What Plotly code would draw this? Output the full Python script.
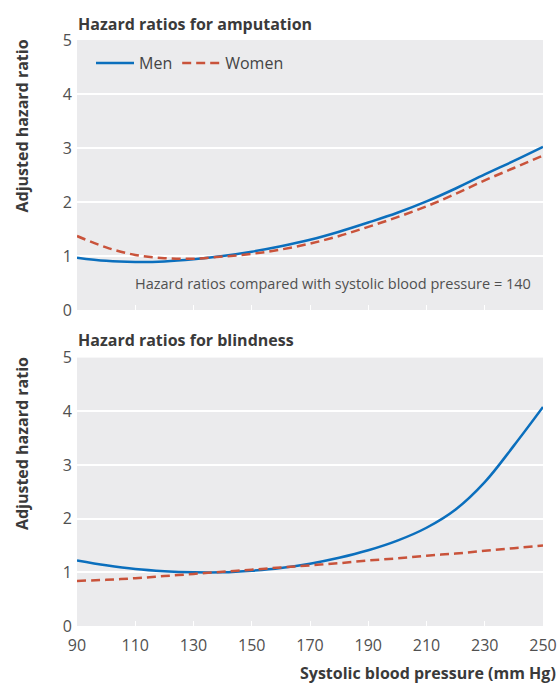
import plotly.graph_objects as go

# ---- data ----
sbp = [90, 100, 110, 120, 130, 140, 150, 160, 170, 180, 190, 200, 210, 220, 230, 240, 250]
amp_men = [0.97, 0.91, 0.89, 0.90, 0.94, 1.00, 1.08, 1.18, 1.30, 1.45, 1.62, 1.80, 2.01, 2.25, 2.51, 2.76, 3.02]
amp_women = [1.37, 1.16, 1.02, 0.96, 0.95, 0.99, 1.04, 1.12, 1.23, 1.37, 1.54, 1.72, 1.92, 2.15, 2.40, 2.63, 2.86]
blind_men = [1.22, 1.13, 1.06, 1.02, 1.00, 1.00, 1.03, 1.08, 1.16, 1.27, 1.41, 1.59, 1.83, 2.17, 2.68, 3.36, 4.08]
blind_women = [0.84, 0.86, 0.89, 0.93, 0.97, 1.01, 1.05, 1.09, 1.13, 1.17, 1.22, 1.26, 1.31, 1.35, 1.40, 1.45, 1.50]

x_ticks = [90, 110, 130, 150, 170, 190, 210, 230, 250]
y_ticks = [0, 1, 2, 3, 4, 5]

series_names = ["Men", "Women"]
panel_titles = ["Hazard ratios for amputation", "Hazard ratios for blindness"]
y_title = "Adjusted hazard ratio"
x_title = "Systolic blood pressure (mm Hg)"
note = "Hazard ratios compared with systolic blood pressure = 140"

# ---- style ----
BLUE = "#0b6fbd"
RED = "#c9533b"
BG = "#ebebed"
FONT = "Open Sans"
TXT = "#3a3a3a"
TICK = "#505050"

W, H = 560, 683
ML, MR, MT, MB = 77, 17, 40, 57
PH = H - MT - MB
PW = W - ML - MR


def py(pix):
    return (H - MB - pix) / PH


def px(pix):
    return (pix - ML) / PW


fig = go.Figure()

men_line = dict(color=BLUE, width=2.5, shape="spline")
women_line = dict(color=RED, width=2.5, dash="9px,5px", shape="spline")

fig.add_trace(go.Scatter(x=sbp, y=amp_men, mode="lines", name=series_names[0],
                         line=men_line, xaxis="x", yaxis="y", showlegend=True))
fig.add_trace(go.Scatter(x=sbp, y=amp_women, mode="lines", name=series_names[1],
                         line=women_line, xaxis="x", yaxis="y", showlegend=True))
fig.add_trace(go.Scatter(x=sbp, y=blind_men, mode="lines", name=series_names[0],
                         line=men_line, xaxis="x2", yaxis="y2", showlegend=False))
fig.add_trace(go.Scatter(x=sbp, y=blind_women, mode="lines", name=series_names[1],
                         line=women_line, xaxis="x2", yaxis="y2", showlegend=False))

common_x = dict(range=[90, 250], tickmode="array", tickvals=x_ticks, ticks="inside",
                ticklen=5, tickwidth=1.2, tickcolor="white", showgrid=False,
                zeroline=False, showline=False, ticklabelstandoff=8, automargin=False,
                tickfont=dict(family=FONT, size=16, color=TICK))
common_y = dict(range=[0, 5], tickmode="array", tickvals=y_ticks, ticks="",
                showgrid=True, gridcolor="white", gridwidth=1.5, zeroline=False,
                showline=False, ticklabelstandoff=4, automargin=False,
                tickfont=dict(family=FONT, size=16, color=TICK))

top_dom = [py(310), 1.0]
bot_dom = [0.0, py(357.6)]

fig.update_layout(
    width=W, height=H,
    autosize=False,
    margin=dict(l=ML, r=MR, t=MT, b=MB, autoexpand=False),
    paper_bgcolor="white",
    plot_bgcolor=BG,
    font=dict(family=FONT, color=TXT),
    xaxis=dict(common_x, anchor="y", showticklabels=False),
    yaxis=dict(common_y, anchor="x", domain=top_dom),
    xaxis2=dict(common_x, anchor="y2", showticklabels=True),
    yaxis2=dict(common_y, anchor="x2", domain=bot_dom),
    legend=dict(orientation="h", x=px(91), y=py(63), xanchor="left", yanchor="middle",
                bgcolor="rgba(0,0,0,0)", font=dict(family=FONT, size=16, color="#444444"),
                itemwidth=38, tracegroupgap=0),
    showlegend=True,
)

annotations = [
    dict(text="<b>%s</b>" % panel_titles[0], x=px(76), y=py(24), xref="paper", yref="paper",
         xanchor="left", yanchor="middle", showarrow=False,
         font=dict(family=FONT, size=16, color=TXT)),
    dict(text="<b>%s</b>" % panel_titles[1], x=px(76), y=py(340), xref="paper", yref="paper",
         xanchor="left", yanchor="middle", showarrow=False,
         font=dict(family=FONT, size=16, color=TXT)),
    dict(text="<b>%s</b>" % y_title, x=px(22), y=py(38), xref="paper", yref="paper",
         xanchor="center", yanchor="top", textangle=-90, showarrow=False,
         font=dict(family=FONT, size=16, color=TXT)),
    dict(text="<b>%s</b>" % y_title, x=px(22), y=py(355.6), xref="paper", yref="paper",
         xanchor="center", yanchor="top", textangle=-90, showarrow=False,
         font=dict(family=FONT, size=16, color=TXT)),
    dict(text="<b>%s</b>" % x_title, x=px(558), y=py(673), xref="paper", yref="paper",
         xanchor="right", yanchor="middle", showarrow=False,
         font=dict(family=FONT, size=16, color=TXT)),
    dict(text=note, x=px(533), y=py(283), xref="paper", yref="paper",
         xanchor="right", yanchor="middle", showarrow=False,
         font=dict(family=FONT, size=14.5, color="#505050")),
]
fig.update_layout(annotations=annotations)

fig.write_html(
    "out.html",
    config={"displayModeBar": False},
    post_script="document.body.style.margin='0';document.body.style.overflow='hidden';",
)
